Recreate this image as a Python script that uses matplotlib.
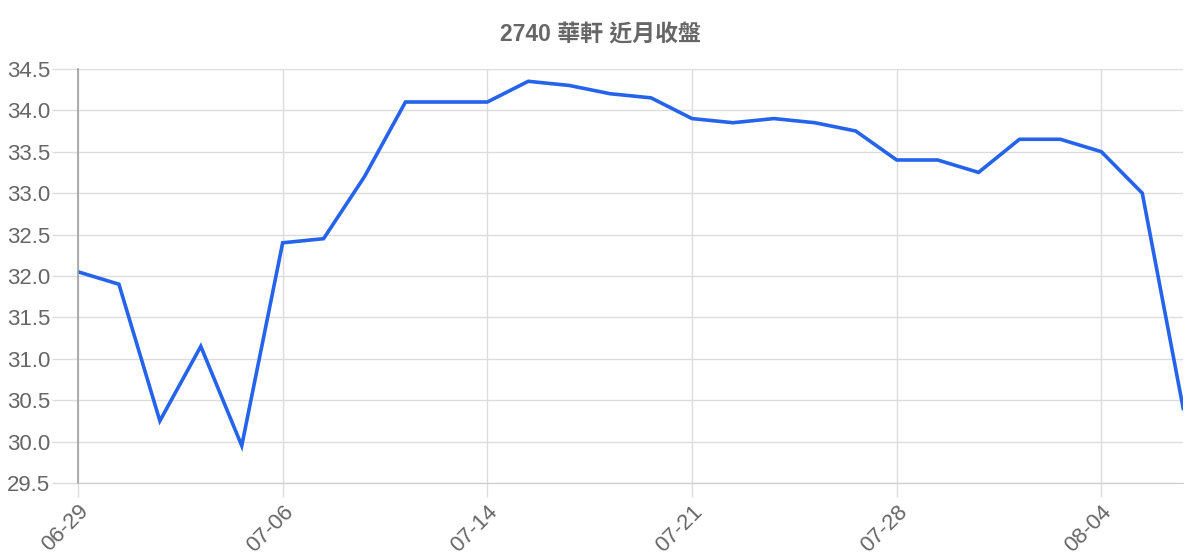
import matplotlib
matplotlib.use("Agg")
import matplotlib.pyplot as plt

plt.rcParams["font.family"] = ["Liberation Sans", "Noto Sans CJK TC", "DejaVu Sans"]

TITLE = "2740 華軒 近月收盤"

dates = ["06-29", "06-30", "07-01", "07-02", "07-03",
         "07-06", "07-07", "07-08", "07-09", "07-10",
         "07-14", "07-15", "07-16", "07-17", "07-20",
         "07-21", "07-22", "07-23", "07-24", "07-27",
         "07-28", "07-29", "07-30", "07-31", "08-03",
         "08-04", "08-05", "08-06"]
closes = [32.05, 31.9, 30.25, 31.15, 29.95,
          32.4, 32.45, 33.2, 34.1, 34.1,
          34.1, 34.35, 34.3, 34.2, 34.15,
          33.9, 33.85, 33.9, 33.85, 33.75,
          33.4, 33.4, 33.25, 33.65, 33.65,
          33.5, 33.0, 30.4]
y_ticks = [29.5, 30.0, 30.5, 31.0, 31.5, 32.0, 32.5, 33.0, 33.5, 34.0, 34.5]

text_color = "#666666"

fig = plt.figure(figsize=(12, 5.6), dpi=100)
ax = fig.add_axes([0.065, 0.1375, 0.921, 0.7395])

x = list(range(len(dates)))
ax.plot(x, closes, color="#2563eb", linewidth=2.6, solid_joinstyle="miter")

ax.set_xlim(0, len(dates) - 1)
ax.set_ylim(29.5, 34.5)
ax.set_yticks(y_ticks)
ax.set_yticklabels([f"{v:.1f}" for v in y_ticks])
ax.set_xticks(x[::5])
ax.set_xticklabels(dates[::5], rotation=45, ha="right", rotation_mode="anchor")

ax.grid(True, color="#dcdcdc", linewidth=1)
ax.set_axisbelow(True)
ax.tick_params(axis="both", colors="#dcdcdc", labelcolor=text_color, labelsize=16,
               length=19, width=1)
ax.tick_params(axis="y", pad=1)
ax.tick_params(axis="x", length=10, pad=3)

for side in ["top", "right"]:
    ax.spines[side].set_visible(False)
ax.spines["left"].set_color("#a0a0a0")
ax.spines["left"].set_linewidth(1.2)
ax.spines["bottom"].set_color("#cccccc")

fig.text(0.5, 0.937, TITLE, ha="center", va="center", fontsize=16.5,
         fontweight="bold", color=text_color)

fig.savefig("out.png", dpi=100)
